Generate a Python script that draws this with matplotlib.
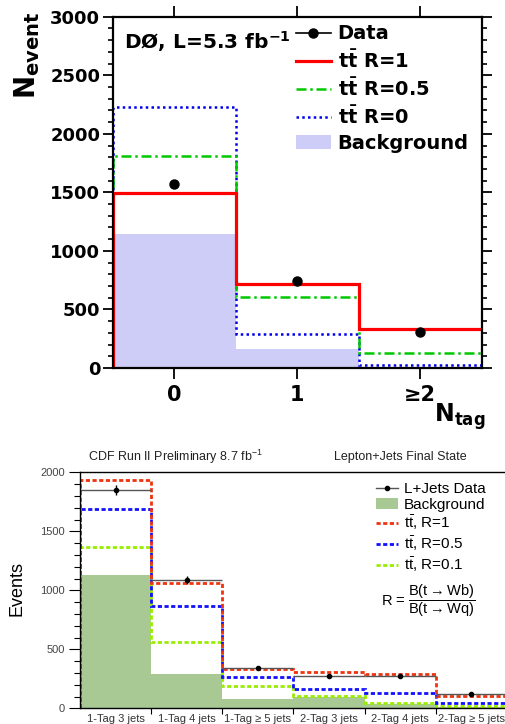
import numpy as np
import matplotlib
matplotlib.use("Agg")
import matplotlib.pyplot as plt
from matplotlib.lines import Line2D
from matplotlib.patches import Patch
from matplotlib.ticker import MultipleLocator, FixedLocator
from matplotlib.font_manager import FontProperties

plt.rcParams['mathtext.fontset'] = 'dejavusans'
plt.rcParams['mathtext.rm'] = 'Liberation Sans'
plt.rcParams['mathtext.it'] = 'Liberation Sans:italic'
plt.rcParams['mathtext.bf'] = 'Liberation Sans:bold'

# D0 panel: N_tag bins
d0_edges = [-0.5, 0.5, 1.5, 3.0]
d0_centers = [0, 1, 2]
d0_ticklabels = ['0', '1', '≥2']
d0_data = [1570, 744, 310]
d0_r1 = [1493, 718, 333]
d0_r05 = [1812, 607, 125]
d0_r0 = [2233, 288, 23]
d0_bkg = [1145, 160, 0]

# CDF panel: tag/jet categories
cdf_labels = ['1-Tag 3 jets', '1-Tag 4 jets', '1-Tag ≥ 5 jets',
              '2-Tag 3 jets', '2-Tag 4 jets', '2-Tag ≥ 5 jets']
cdf_data = [1850, 1088, 340, 277, 277, 125]
cdf_err = [43, 33, 18, 17, 17, 11]
cdf_bkg = [1133, 291, 82, 95, 34, 14]
cdf_r1 = [1934, 1062, 334, 308, 294, 107]
cdf_r05 = [1685, 863, 269, 164, 130, 48]
cdf_r01 = [1368, 566, 187, 102, 48, 20]

fig = plt.figure(figsize=(5.06, 7.24), dpi=100)

# ---------------- top panel (D0) ----------------
ax = fig.add_axes([112.7 / 506, 1 - 368 / 724, 369 / 506, 351.3 / 724])
ax.stairs(d0_bkg, d0_edges, baseline=0, fill=True, color='#cdcdf7', lw=0)
ax.stairs(d0_r0, d0_edges, baseline=0, color='#0000ee', lw=1.8, ls=(0, (1, 1.3)))
ax.stairs(d0_r05, d0_edges, baseline=0, color='#00c800', lw=1.8,
          ls=(0, (4, 1.5, 1, 1.5)))
ax.stairs(d0_r1, d0_edges, baseline=0, color='#ff0000', lw=2.3)
ax.plot(d0_centers, d0_data, 'o', color='black', ms=6.5, zorder=5)

ax.set_xlim(-0.5, 2.5)
ax.set_ylim(0, 3000)
ax.set_xticks(d0_centers)
ax.set_xticklabels(d0_ticklabels, fontsize=15, fontweight='bold')
ax.yaxis.set_major_locator(MultipleLocator(500))
ax.yaxis.set_minor_locator(MultipleLocator(100))
for lab in ax.get_yticklabels():
    lab.set_fontsize(13)
    lab.set_fontweight('bold')
ax.tick_params(axis='x', which='major', direction='out', length=8, width=1.3,
               top=True, pad=4)
ax.tick_params(axis='y', which='major', direction='out', length=7, width=1.3,
               right=True, pad=2)
ax.tick_params(axis='y', which='minor', direction='out', length=3.5, width=1.2,
               right=True)
for sp in ax.spines.values():
    sp.set_linewidth(1.6)

ax.text(0.03, 0.93, r'DØ, L=5.3 fb$^{\mathbf{-1}}$', transform=ax.transAxes,
        fontsize=14.5, fontweight='bold', va='center', ha='left')

d0_handles = [
    Line2D([], [], color='black', lw=1.2, marker='o', ms=6.5),
    Line2D([], [], color='#ff0000', lw=2.3),
    Line2D([], [], color='#00c800', lw=1.8, ls=(0, (4, 1.5, 1, 1.5))),
    Line2D([], [], color='#0000ee', lw=1.8, ls=(0, (1, 1.3))),
    Patch(facecolor='#cdcdf7', edgecolor='none'),
]
d0_names = ['Data', r'$\mathbf{t\bar{t}}$ R=1', r'$\mathbf{t\bar{t}}$ R=0.5',
            r'$\mathbf{t\bar{t}}$ R=0', 'Background']
ax.legend(d0_handles, d0_names, loc='upper left',
          bbox_to_anchor=(0.475, 1.0), frameon=False,
          prop=FontProperties(family='DejaVu Sans', weight='bold', size=14),
          handlelength=1.8, handletextpad=0.35, labelspacing=0.3,
          borderaxespad=0.2, borderpad=0.2)

fig.text(27 / 506, 1 - 12 / 724, r'$\mathbf{N_{event}}$', rotation=90,
         fontsize=20, va='top', ha='center')
fig.text(485 / 506, 1 - 401 / 724, r'$\mathbf{N_{tag}}$',
         fontsize=17, va='top', ha='right')

# ---------------- bottom panel (CDF) ----------------
bx = fig.add_axes([80 / 506, 1 - 708.3 / 724, 427 / 506, 236 / 724])
cdf_edges = np.arange(len(cdf_labels) + 1)
cdf_centers = np.arange(len(cdf_labels)) + 0.5
dot = (0, (1.5, 0.9))
bx.stairs(cdf_bkg, cdf_edges, baseline=0, fill=True, color='#a8c994', lw=0)
bx.stairs(cdf_r01, cdf_edges, baseline=0, color='#99ee00', lw=2, ls=dot)
bx.stairs(cdf_r05, cdf_edges, baseline=0, color='#1111ff', lw=2, ls=dot)
bx.stairs(cdf_r1, cdf_edges, baseline=0, color='#ee3311', lw=2, ls=dot)
bx.hlines(cdf_data, cdf_edges[:-1], cdf_edges[1:], color='#555555', lw=1)
bx.errorbar(cdf_centers, cdf_data, yerr=cdf_err, fmt='o', color='black',
            ms=3, elinewidth=1, capsize=0, zorder=5)

bx.set_xlim(0, 6)
bx.set_ylim(0, 2000)
bx.set_xticks(cdf_centers)
bx.set_xticklabels(cdf_labels, fontsize=8, family='Liberation Sans',
                   color='#333333')
bx.xaxis.set_minor_locator(FixedLocator(cdf_edges[1:-1]))
bx.tick_params(axis='x', which='major', length=0, pad=4)
bx.tick_params(axis='x', which='minor', direction='out', length=4, width=0.8)
bx.yaxis.set_major_locator(MultipleLocator(500))
bx.yaxis.set_minor_locator(MultipleLocator(100))
bx.tick_params(axis='y', which='major', direction='out', length=8, width=0.8,
               labelsize=8, labelcolor='#444444', pad=3)
bx.tick_params(axis='y', which='minor', direction='out', length=4, width=0.8)
for lab in bx.get_yticklabels():
    lab.set_family('Liberation Sans')
bx.spines['right'].set_visible(False)
for sp in ['left', 'top', 'bottom']:
    bx.spines[sp].set_linewidth(1)

fig.text(175 / 506, 1 - 457 / 724, r'CDF Run II Preliminary 8.7 fb$^{\mathrm{-1}}$',
         family='Liberation Sans', fontsize=9, ha='center', va='center',
         color='#222222', math_fontfamily='custom')
fig.text(400 / 506, 1 - 457 / 724, 'Lepton+Jets Final State',
         family='Liberation Sans', fontsize=9, ha='center', va='center',
         color='#222222')
fig.text(17 / 506, 1 - 589 / 724, 'Events', rotation=90,
         family='Liberation Sans', fontsize=13, ha='center', va='center')

cdf_handles = [
    Line2D([], [], color='#555555', lw=1, marker='o', ms=3,
           markerfacecolor='black', markeredgecolor='black'),
    Patch(facecolor='#a8c994', edgecolor='none'),
    Line2D([], [], color='#ee3311', lw=2, ls=dot),
    Line2D([], [], color='#1111ff', lw=2, ls=dot),
    Line2D([], [], color='#99ee00', lw=2, ls=dot),
]
cdf_names = ['L+Jets Data', 'Background', r'$\mathrm{t\bar{t}}$, R=1',
             r'$\mathrm{t\bar{t}}$, R=0.5', r'$\mathrm{t\bar{t}}$, R=0.1']
bx.legend(cdf_handles, cdf_names, loc='upper left',
          bbox_to_anchor=(0.68, 0.985), frameon=False,
          prop=FontProperties(family='Liberation Sans', size=11,
                              math_fontfamily='custom'),
          handlelength=1.4, handletextpad=0.4, labelspacing=0.12,
          borderaxespad=0.2, borderpad=0.2)

bx.text(0.705, 0.455,
        r'R = $\dfrac{\mathrm{B(t \rightarrow Wb)}}{\mathrm{B(t \rightarrow Wq)}}$',
        transform=bx.transAxes, family='Liberation Sans', fontsize=10.5,
        ha='left', va='center', math_fontfamily='custom')

fig.savefig('out.png', dpi=100)
